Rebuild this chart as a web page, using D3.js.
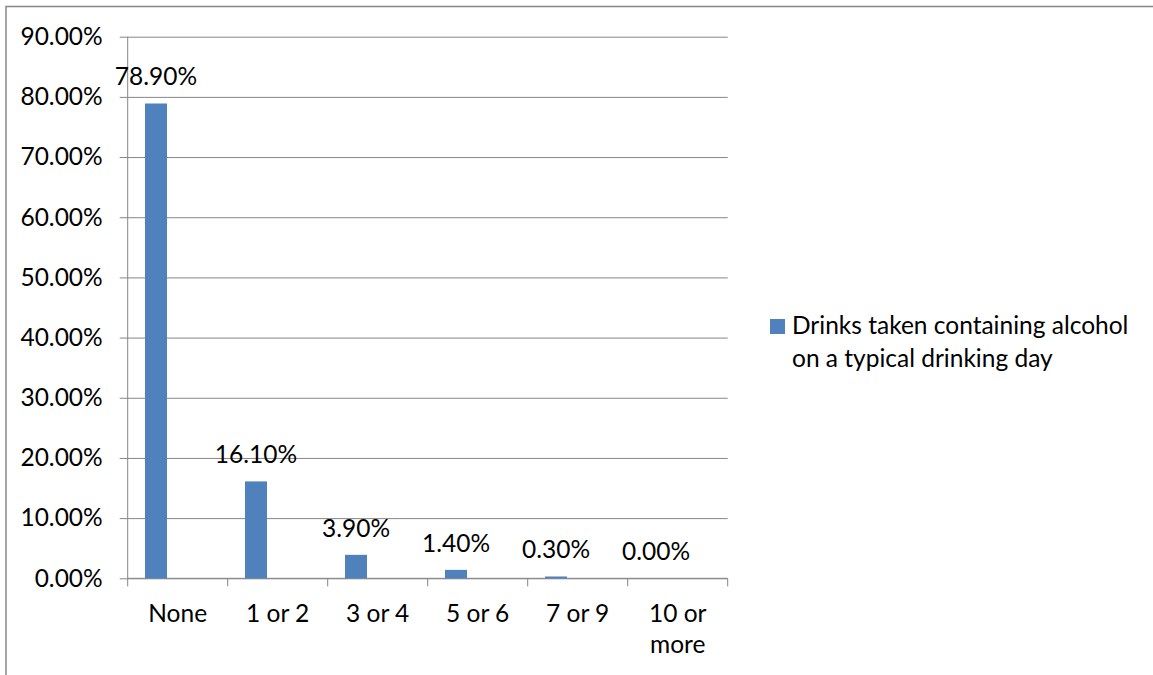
<!DOCTYPE html>
<html>
<head>
<meta charset="utf-8">
<script src="https://cdn.jsdelivr.net/npm/d3@7"></script>
<style>
  body { margin: 0; background: #fff; }
  text { font-family: Lato, "Open Sans", sans-serif; fill: #000; }
</style>
</head>
<body>
<div id="chart"></div>
<script>
// chart values
const categories = ['None', '1 or 2', '3 or 4', '5 or 6', '7 or 9', '10 or more'];
const catLines = [['None'], ['1 or 2'], ['3 or 4'], ['5 or 6'], ['7 or 9'], ['10 or', 'more']];
const values = [0.789, 0.161, 0.039, 0.014, 0.003, 0.0];
const yTicks = [0, 0.1, 0.2, 0.3, 0.4, 0.5, 0.6, 0.7, 0.8, 0.9];
const seriesName = ['Drinks taken containing alcohol', 'on a typical drinking day'];

const svgWidth = 1153;
const svgHeight = 675;
const plot = { left: 127.7, right: 727.7, top: 36.7, bottom: 578.3 };
const barColor = '#4F81BD';
const lineColor = '#868686';
const fontSize = 24.5;

const svg = d3.select('#chart')
            .append('svg')
            .attr('width', svgWidth)
            .attr('height', svgHeight);

// outer chart border (only top and left visible in the crop)
svg.append('path')
    .attr('d', `M6,${svgHeight + 5} L6,6.5 L${svgWidth + 5},6.5`)
    .attr('fill', 'none')
    .attr('stroke', lineColor)
    .attr('stroke-width', 1.5);

const xScale = d3.scaleBand()
                .domain(categories)
                .range([plot.left, plot.right]);

const yScale = d3.scaleLinear()
                .domain([0, 0.9])
                .range([plot.bottom, plot.top]);

// gridlines + y axis
const yAxis = d3.axisLeft(yScale)
                .tickValues(yTicks)
                .tickSize(8)
                .tickFormat(d => (d * 100).toFixed(2) + '%');

const yG = svg.append('g')
            .attr('transform', `translate(${plot.left},0)`)
            .call(yAxis);
yG.select('.domain').attr('stroke', lineColor).attr('d', `M0,${plot.top}V${plot.bottom}`);
yG.selectAll('.tick line').attr('stroke', lineColor);
yG.selectAll('.tick').append('line')
    .attr('x1', 0).attr('x2', plot.right - plot.left)
    .attr('stroke', lineColor);
yG.selectAll('.tick text')
    .attr('x', -25)
    .attr('font-size', fontSize)
    .attr('font-family', 'Lato, sans-serif');

// x axis
const xG = svg.append('g')
            .attr('transform', `translate(0,${plot.bottom})`);
xG.append('line')
    .attr('x1', plot.left).attr('x2', plot.right)
    .attr('stroke', lineColor);
xG.selectAll('.xtick').data(d3.range(categories.length + 1)).enter()
    .append('line')
    .attr('x1', i => plot.left + i * xScale.step())
    .attr('x2', i => plot.left + i * xScale.step())
    .attr('y1', 0).attr('y2', 8)
    .attr('stroke', lineColor);

const xLabels = xG.selectAll('.xlabel').data(categories).enter()
    .append('text')
    .attr('text-anchor', 'middle')
    .attr('font-size', fontSize)
    .attr('transform', d => `translate(${xScale(d) + xScale.bandwidth() / 2},0)`);
xLabels.selectAll('tspan').data((d, i) => catLines[i]).enter()
    .append('tspan')
    .attr('x', 0)
    .attr('y', (d, j) => 44 + j * 31)
    .text(d => d);

// bars
const barOffset = xScale.bandwidth() * 0.173;
const barWidth = xScale.bandwidth() * 0.22;

svg.selectAll('rect.bar').data(values).enter()
    .append('rect')
    .attr('class', 'bar')
    .attr('x', (d, i) => xScale(categories[i]) + barOffset)
    .attr('y', d => yScale(d))
    .attr('width', barWidth)
    .attr('height', d => yScale(0) - yScale(d))
    .attr('fill', barColor);

// data labels
svg.selectAll('text.dlabel').data(values).enter()
    .append('text')
    .attr('class', 'dlabel')
    .attr('text-anchor', 'middle')
    .attr('font-size', fontSize)
    .attr('x', (d, i) => xScale(categories[i]) + barOffset + barWidth / 2)
    .attr('y', d => yScale(d) - 18)
    .text(d => (d * 100).toFixed(2) + '%');

// legend
svg.append('rect')
    .attr('x', 770).attr('y', 319)
    .attr('width', 15).attr('height', 15)
    .attr('fill', barColor);
svg.selectAll('text.legend').data(seriesName).enter()
    .append('text')
    .attr('class', 'legend')
    .attr('x', 792)
    .attr('y', (d, i) => 334 + i * 33)
    .attr('font-size', fontSize)
    .text(d => d);
</script>
</body>
</html>
